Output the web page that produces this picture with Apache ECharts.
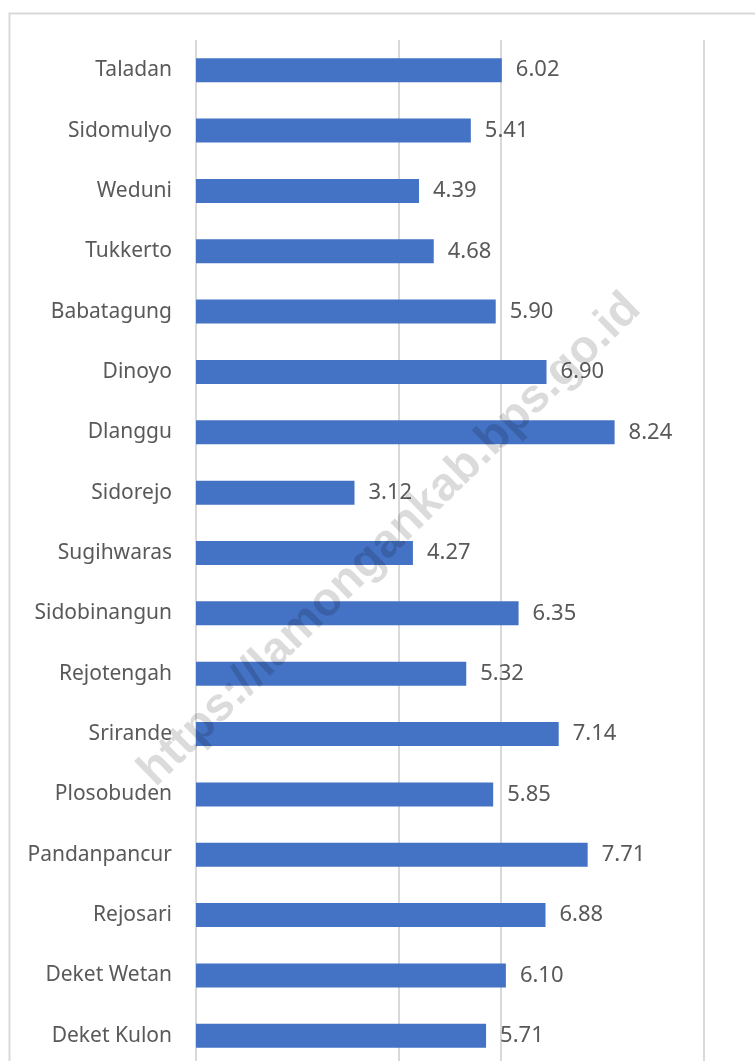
<!DOCTYPE html>
<html>
<head>
<meta charset="utf-8">
<script src="https://cdn.jsdelivr.net/npm/echarts@6/dist/echarts.min.js"></script>
<style>
html,body{margin:0;padding:0;background:#fff;overflow:hidden;width:755px;height:1061px;}
#chart{width:755px;height:1070px;}
</style>
</head>
<body>
<div id="chart"></div>
<script>
const categories = ["Taladan","Sidomulyo","Weduni","Tukkerto","Babatagung","Dinoyo","Dlanggu","Sidorejo","Sugihwaras","Sidobinangun","Rejotengah","Srirande","Plosobuden","Pandanpancur","Rejosari","Deket Wetan","Deket Kulon"];
const values = [6.02,5.41,4.39,4.68,5.90,6.90,8.24,3.12,4.27,6.35,5.32,7.14,5.85,7.71,6.88,6.10,5.71];
const watermark = "https://lamongankab.bps.go.id";

const chart = echarts.init(document.getElementById('chart'));
const grid = '#d9d9d9';
chart.setOption({
  backgroundColor: '#fff',
  animation: false,
  grid: {left: 196, right: 51, top: 40, height: 1026, containLabel: false, outerBoundsMode: 'none'},
  xAxis: {
    type: 'value', min: 0, max: 10, interval: 2,
    axisLabel: {show: false}, axisLine: {show: false}, axisTick: {show: false},
    splitLine: {show: true, lineStyle: {color: [grid, 'rgba(0,0,0,0)', grid, grid, 'rgba(0,0,0,0)', grid], width: 2}}
  },
  yAxis: {
    type: 'category', data: categories, inverse: true,
    axisLine: {show: false}, axisTick: {show: false},
    axisLabel: {color: '#595959', fontFamily: 'Noto Sans', fontSize: 21, margin: 24}
  },
  series: [{
    type: 'bar', data: values, barWidth: 24,
    itemStyle: {color: '#4472C4'},
    label: {show: true, position: 'right', distance: 14, color: '#595959', fontFamily: 'Noto Sans', fontSize: 22,
      formatter: p => p.value.toFixed(2)}
  }],
  graphic: [
    {type: 'rect', left: 7, top: 11, shape: {width: 800, height: 1100}, style: {fill: 'none', stroke: '#d9d9d9', lineWidth: 2}, z: 100, silent: true},
    {type: 'text', x: 390, y: 540, rotation: 0.775, z: 100, silent: true,
      style: {text: watermark, fill: 'rgba(0,0,0,0.14)', font: 'bold 47px "Liberation Sans"', align: 'center', verticalAlign: 'middle'}}
  ]
});
</script>
</body>
</html>
